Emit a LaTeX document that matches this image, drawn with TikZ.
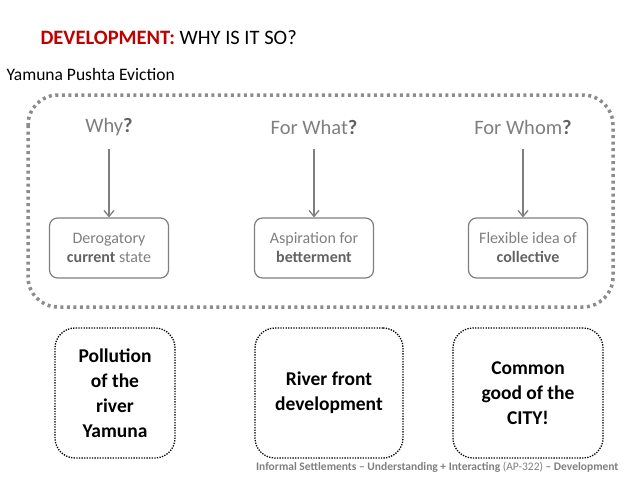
\documentclass[tikz,border=0pt]{standalone}
\usepackage{fontspec}
\setmainfont{Carlito}
\usetikzlibrary{arrows.meta,positioning}
\definecolor{devred}{HTML}{C00000}
\definecolor{devgray}{HTML}{7F7F7F}
\definecolor{devdark}{HTML}{626262}
\definecolor{devdots}{HTML}{8C8C8C}

\begin{document}
\begin{tikzpicture}[x=1pt, y=-1pt,
    question/.style={font=\fontsize{20.5}{24}\selectfont, color=devgray},
    reason/.style={draw=devgray, line width=1.2pt, rounded corners=8pt, minimum width=119pt, minimum height=60pt, align=center, color=devgray, font=\fontsize{16}{19}\selectfont},
    answer/.style={draw=black, line width=1.3pt, dash pattern=on 1.3pt off 1.3pt, rounded corners=20pt, minimum height=130pt, align=center, font=\fontsize{19.5}{25}\selectfont\bfseries},
    flow/.style={-{Straight Barb[length=6pt,width=10pt]}, draw=devgray, line width=1.3pt}]
  \useasboundingbox (0,0) rectangle (638,479);
  % heading
  \node[anchor=west, font=\fontsize{20.5}{24}\selectfont] (title) at (37,38)
    {\textcolor{devred}{\textbf{DEVELOPMENT:}} WHY IS IT SO?};
  \node[anchor=west, font=\fontsize{17.5}{21}\selectfont] (case) at (3,74) {Yamuna Pushta Eviction};
  % dotted frame
  \draw[devdots, line width=3.5pt, dash pattern=on 3pt off 3.5pt, rounded corners=30pt] (28,95) rectangle (613,307);
  % questions
  \node[question] (why) at (109,127) {Why\textcolor{devdark}{\textbf{?}}};
  \node[question] (what) at (314,127) {For What\textcolor{devdark}{\textbf{?}}};
  \node[question] (whom) at (523,127) {For Whom\textcolor{devdark}{\textbf{?}}};
  \node[reason] (why box) at (109,248) {Derogatory\\\textcolor{devdark}{\textbf{current}} state};
  \node[reason] (what box) at (314,248) {Aspiration for\\\textcolor{devdark}{\textbf{betterment}}};
  \node[reason] (whom box) at (528,248) {Flexible idea of\\\textcolor{devdark}{\textbf{collective}}};
  \draw[flow] (why) ++(0,22) -- (why |- why box.north);
  \draw[flow] (what) ++(0,22) -- (what |- what box.north);
  \draw[flow] (whom) ++(0,22) -- (whom |- whom box.north);
  % answers
  \node[answer, minimum width=120pt] (pollution) at (115,393) {Pollution\\of the\\river\\Yamuna};
  \node[answer, minimum width=148pt] (riverfront) at (329,393) {River front\\development};
  \node[answer, minimum width=150pt] (common) at (528,393) {Common\\good of the\\CITY!};
  % footer
  \node[anchor=east, color=devgray, font=\fontsize{11.5}{13}\selectfont\bfseries] (footer) at (622,467)
    {Informal Settlements -- Understanding + Interacting \textmd{(AP-322)} -- Development};
\end{tikzpicture}
\end{document}
